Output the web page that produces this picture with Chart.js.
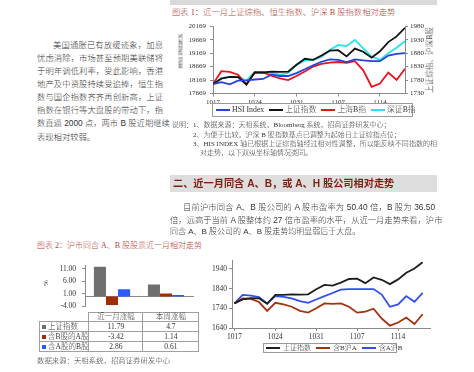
<!DOCTYPE html>
<html><head><meta charset="utf-8">
<script src="https://cdn.jsdelivr.net/npm/chart.js@4.4.1/dist/chart.umd.min.js"></script>
<style>
html,body{margin:0;padding:0;background:#fff;}
body{width:474px;height:372px;position:relative;overflow:hidden;font-family:"Liberation Serif","Noto Sans CJK SC",serif;color:#333;font-weight:300;}
.t{position:absolute;white-space:nowrap;line-height:1;transform:translateY(-50%);}
.j{position:absolute;white-space:nowrap;line-height:1;transform:translateY(-50%);text-align:justify;text-align-last:justify;}
.body{font-family:"Liberation Sans","Noto Sans CJK SC",sans-serif;font-size:8.3px;}
.note{font-size:7px;}
.ttl{font-size:8.3px;color:#b4453c;font-family:"Liberation Serif","Noto Sans CJK SC",serif;}
.rot{position:absolute;width:0;height:0;}
.rot span{position:absolute;white-space:nowrap;line-height:1;transform:translate(-50%,-50%) rotate(-90deg);}
canvas{position:absolute;}
.leg{position:absolute;border:1px solid #9a9a9a;box-sizing:border-box;display:flex;align-items:center;white-space:nowrap;line-height:1;}
.leg .it{display:flex;align-items:center;}
.leg .ln{display:inline-block;height:2px;}
table.dt{position:absolute;border-collapse:collapse;font-size:7.5px;line-height:1;}
table.dt td{border:1px solid #a0a0a0;padding:0;text-align:center;white-space:nowrap;}
table.dt td.lab{text-align:left;padding-left:2px;}
.sq{display:inline-block;width:4px;height:4px;margin-right:2px;vertical-align:middle;}
</style></head><body>

<div style="position:absolute;left:170px;top:0;width:267px;height:5px;background:#d9d9d9"></div>
<div class="t ttl" style="left:172px;top:13px">图表 1：近一月上证综指、恒生指数、沪深 B 股指数相对走势</div>

<div class="j body" style="left:53px;top:44.5px;width:110px">美国通胀已有放缓迹象，加息</div>
<div class="j body" style="left:37px;top:57.5px;width:126px">忧虑消除，市场甚至预期美联储将</div>
<div class="j body" style="left:37px;top:70.5px;width:126px">于明年调低利率，受此影响，香港</div>
<div class="j body" style="left:37px;top:83.5px;width:126px">地产及中资股持续受追捧，恒生指</div>
<div class="j body" style="left:37px;top:96.8px;width:126px">数与国企指数齐齐再创新高，上证</div>
<div class="j body" style="left:37px;top:110px;width:126px">指数在银行等大盘股的带动下，指</div>
<div class="j body" style="left:37px;top:123.3px;width:126px">数直逼 2000 点，两市 B 股近期继续</div>
<div class="t body" style="left:37px;top:136.6px">表现相对较弱。</div>

<canvas id="c1" width="270" height="90" style="left:170px;top:18px"></canvas>
<div class="rot" style="left:181px;top:51px"><span style="font-size:7px">HSI INDEX</span></div>
<div class="rot" style="left:430px;top:60px"><span style="font-size:7.6px">上证综指、沪深B股</span></div>
<div class="leg" id="lg1" style="left:212px;top:103px;width:201px;height:14px;font-size:7.8px;padding-left:3px"></div>

<div class="t note" style="left:172px;top:125px">说明：</div>
<div class="t note" style="left:193px;top:125px">1、数据来源：天相系统，Bloomberg 系统，招商证券研发中心；</div>
<div class="t note" style="left:193px;top:135px">2、为便于比较，沪深 B 股指数基点已调整为起始日上证综指点位；</div>
<div class="j note" style="left:193px;top:144px;width:244px">3、HIS INDEX 轴已根据上证综指轴经过相对性调整，所以能反映不同指数的相</div>
<div class="t note" style="left:200px;top:152.5px">对走势，以下双纵坐标轴情况类同。</div>

<div style="position:absolute;left:170px;top:175px;width:267px;height:17px;background:#dedede"></div>
<div class="t" style="left:173px;top:183.5px;font-size:10.2px;font-weight:bold;color:#7f1f12;font-family:'Liberation Sans','Noto Sans CJK SC',sans-serif">二、近一月同含 A、B，或 A、H 股公司相对走势</div>

<div class="j body" style="left:183px;top:207px;width:252px">目前沪市同含 A、B 股公司的 A 股市盈率为 50.40 倍，B 股为 36.50</div>
<div class="j body" style="left:170px;top:219.5px;width:263px">倍，远高于当前 A 股整体约 27 倍市盈率的水平，从近一月走势来看，沪市</div>
<div class="t body" style="left:170px;top:232px;font-size:8px">同含 A、B 股公司的 A、B 股走势均明显弱后于大盘。</div>

<div class="t ttl" style="left:37px;top:246px;font-size:8px">图表 2：沪市同含 A、B 股股票近一月相对走势</div>
<canvas id="c2" width="170" height="62" style="left:30px;top:255px"></canvas>
<div class="rot" style="left:46px;top:283px"><span style="font-size:7px">%</span></div>
<table class="dt" id="tb2" style="left:39px;top:312px"></table>
<div class="t note" style="left:37px;top:361px;font-size:7.4px">数据来源：天相系统，招商证券研发中心</div>

<canvas id="c3" width="240" height="90" style="left:200px;top:252px"></canvas>
<div class="leg" id="lg3" style="left:263px;top:343px;width:134px;height:10px;font-size:7px;padding-left:2px"></div>

<script>
// ---------- data ----------
const dates = ['1017','1018','1019','1020','1023','1024','1025','1026','1027','1030','1031','1101','1102','1103','1106','1107','1108','1109','1110','1113','1114','1115','1116','1117'];
const xTickIdx = [0,5,10,15,20];

// chart 1
const names1 = ['HSI Index','上证指数','上海B指','深证B指'];
const hsiIndex = [18019,18089,18009,18149,18159,18189,18209,18369,18319,18319,18429,18569,18719,18849,18939,18919,18839,18939,18899,18869,18869,19079,19139,19169];
const shComposite = [1765,1785,1792,1791,1763,1808,1808,1811,1810,1811,1837,1859,1855,1871,1889,1891,1868,1897,1885,1863,1887,1921,1942,1974];
const shB = [1765,1813,1810,1800,1764,1808,1808,1796,1786,1780,1795,1812,1830,1840,1845,1847,1844,1850,1816,1755,1767,1808,1780,1822];
const szB = [1765,1787,1792,1793,1778,1810,1808,1806,1800,1806,1836,1853,1855,1866,1892,1910,1906,1929,1898,1868,1855,1880,1900,1925];
const hsiTicks = [17669,18169,18669,19169,19669,20169];
const rightTicks = [1730,1780,1830,1880,1930,1980];

// chart 2
const periods = ['近一月涨幅','本周涨幅'];
const names2 = ['上证指数','含B股的A股','含A股的B股'];
const shIndexChg = [11.79, 4.7];
const aWithBChg = [-3.42, 1.14];
const bWithAChg = [2.86, 0.61];
const pctTicks = [-4, 1, 6, 11];

// chart 3
const names3 = ['上证指数','含B沪A','含A沪B'];
const aWithB = [1765,1790,1788,1772,1727,1768,1760,1748,1727,1718,1740,1765,1763,1765,1748,1718,1723,1738,1688,1652,1668,1693,1660,1710];
const bWithA = [1765,1808,1805,1797,1765,1802,1798,1790,1777,1768,1785,1802,1818,1835,1838,1838,1838,1838,1810,1748,1760,1802,1773,1818];
const idxTicks3 = [1640,1740,1840,1940];

// ---------- helpers ----------
const pts = arr => arr.map((v,i)=>({x:i,y:v}));
const serif = '"Liberation Serif","Noto Sans CJK SC",serif';
Chart.defaults.font.family = serif;
Chart.defaults.color = '#333';
const axisCol = '#8a8a8a';
const setTicks = list => s => { s.ticks = list.map(v=>({value:v})); };
const lineDs = (label, data, color, axis) => ({label, data:pts(data), borderColor:color, backgroundColor:color, borderWidth:1.8, pointRadius:0, tension:0, yAxisID:axis});
const base = {animation:false, responsive:false, devicePixelRatio:1, plugins:{legend:{display:false}, tooltip:{enabled:false}}};

function htmlLegend(chart, el, lineW, gap, itemGap){
  chart.data.datasets.forEach((d,i)=>{
    const it = document.createElement('span'); it.className='it';
    it.style.marginRight = itemGap+'px';
    const ln = document.createElement('span'); ln.className='ln';
    ln.style.width=lineW+'px'; ln.style.background=d.borderColor; ln.style.marginRight=gap+'px';
    it.appendChild(ln);
    it.appendChild(document.createTextNode(d.label));
    el.appendChild(it);
  });
}

// ---------- chart 1 ----------
const c1 = new Chart(document.getElementById('c1'), {
  type:'line',
  data:{datasets:[
    lineDs(names1[0], hsiIndex, '#2342e0', 'yL'),
    lineDs(names1[1], shComposite, '#111111', 'yR'),
    lineDs(names1[2], shB, '#e8141c', 'yR'),
    lineDs(names1[3], szB, '#25e4ef', 'yR')
  ]},
  options:Object.assign({}, base, {
    layout:{padding:{top:7,left:0,right:0,bottom:0}},
    scales:{
      x:{type:'linear', min:0, max:23, afterBuildTicks:setTicks(xTickIdx),
         ticks:{callback:v=>dates[v], font:{size:7}, padding:1, maxRotation:0, autoSkip:false},
         grid:{drawOnChartArea:false, tickLength:3, color:axisCol}, border:{color:axisCol},
         afterFit:s=>{s.height=14.5;}},
      yL:{position:'left', min:hsiTicks[0], max:hsiTicks[hsiTicks.length-1], afterBuildTicks:setTicks(hsiTicks),
         ticks:{font:{size:7}, padding:4, callback:v=>String(v)},
         grid:{drawOnChartArea:false, tickLength:3, color:axisCol}, border:{color:axisCol},
         afterFit:s=>{s.width=43;}},
      yR:{position:'right', min:rightTicks[0], max:rightTicks[rightTicks.length-1], afterBuildTicks:setTicks(rightTicks),
         ticks:{font:{size:7}, padding:2, callback:v=>String(v)},
         grid:{drawOnChartArea:false, tickLength:3, color:axisCol}, border:{color:axisCol},
         afterFit:s=>{s.width=35;}}
    }
  })
});
htmlLegend(c1, document.getElementById('lg1'), 14, 2, 5);

// ---------- chart 2 ----------
const barCols = ['#6f6f6f','#a12d08','#2a5bff'];
const c2 = new Chart(document.getElementById('c2'), {
  type:'bar',
  data:{labels:periods, datasets:[
    {label:names2[0], data:shIndexChg, backgroundColor:barCols[0]},
    {label:names2[1], data:aWithBChg, backgroundColor:barCols[1]},
    {label:names2[2], data:bWithAChg, backgroundColor:barCols[2]}
  ]},
  options:Object.assign({}, base, {
    layout:{padding:{top:5,right:7,bottom:5.3,left:0}},
    datasets:{bar:{categoryPercentage:0.67, barPercentage:1}},
    scales:{
      x:{position:{y:0}, ticks:{display:false}, grid:{display:false}, border:{color:axisCol}},
      y:{min:-4, max:12.3, afterBuildTicks:setTicks(pctTicks),
         ticks:{font:{size:7.5}, padding:6, callback:v=>v.toFixed(2)},
         grid:{drawOnChartArea:false, tickLength:3, color:axisCol}, border:{color:axisCol},
         afterFit:s=>{s.width=55;}}
    }
  })
});
// data table under chart 2
(function(){
  const tb = document.getElementById('tb2');
  const widths = [46,53,55];
  let h = '<tr style="height:9px"><td style="border:none;width:'+widths[0]+'px"></td>';
  periods.forEach((p,i)=>{ h += '<td style="width:'+widths[i+1]+'px">'+p+'</td>'; });
  h += '</tr>';
  const vals = [shIndexChg, aWithBChg, bWithAChg];
  names2.forEach((n,r)=>{
    h += '<tr style="height:10px"><td class="lab"><span class="sq" style="background:'+barCols[r]+'"></span>'+n+'</td>';
    vals[r].forEach(v=>{ h += '<td>'+v+'</td>'; });
    h += '</tr>';
  });
  tb.innerHTML = h;
})();

// ---------- chart 3 ----------
const c3 = new Chart(document.getElementById('c3'), {
  type:'line',
  data:{datasets:[
    lineDs(names3[0], shComposite, '#1e1e1e', 'y'),
    lineDs(names3[1], aWithB, '#a3330f', 'y'),
    lineDs(names3[2], bWithA, '#2f4ff0', 'y')
  ]},
  options:Object.assign({}, base, {
    layout:{padding:{top:8.7,right:10,bottom:0,left:0}},
    scales:{
      x:{type:'linear', min:-0.3, max:23.9, afterBuildTicks:setTicks(xTickIdx),
         ticks:{callback:v=>dates[v], font:{size:7.5}, padding:2, maxRotation:0, autoSkip:false},
         grid:{drawOnChartArea:false, tickLength:3, color:axisCol}, border:{color:axisCol},
         afterFit:s=>{s.height=14;}},
      y:{min:1640, max:1982, afterBuildTicks:setTicks(idxTicks3),
         ticks:{font:{size:7.5}, padding:2, callback:v=>String(v)},
         grid:{drawOnChartArea:false, tickLength:3, color:axisCol}, border:{color:axisCol},
         afterFit:s=>{s.width=32;}}
    }
  })
});
htmlLegend(c3, document.getElementById('lg3'), 14, 3, 5);
</script>
</body></html>
